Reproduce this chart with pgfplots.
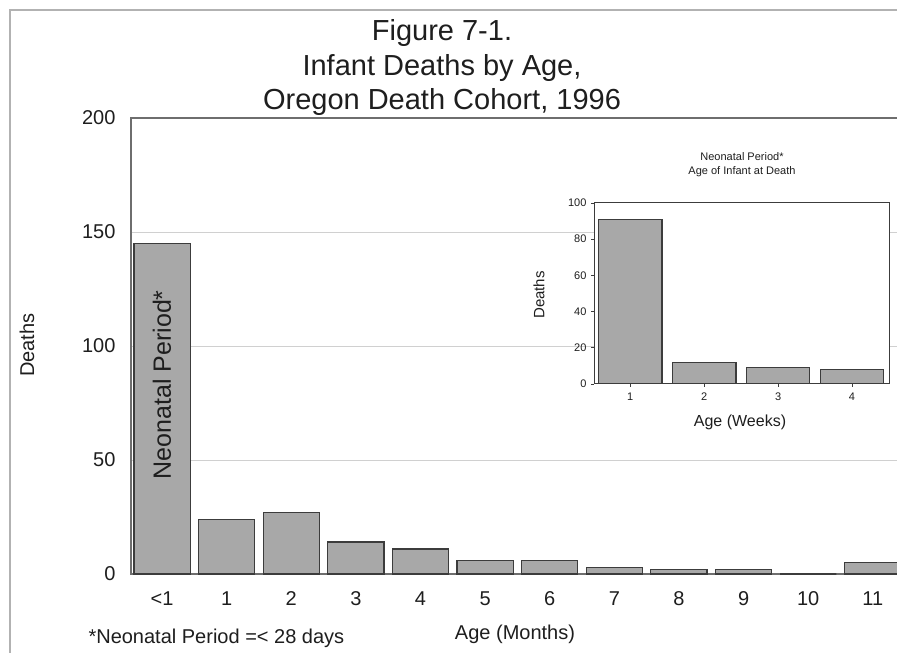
\documentclass[border=0pt]{standalone}
\usepackage{pgfplots}
\pgfplotsset{compat=1.18}
\usepackage{fontspec}
\setmainfont{Liberation Sans}
\definecolor{barfill}{RGB}{168,168,168}
\definecolor{baredge}{RGB}{60,60,60}
\definecolor{txt}{RGB}{30,30,30}
\definecolor{gridc}{RGB}{208,208,208}
\definecolor{axisc}{RGB}{110,110,110}
\begin{document}
\begin{tikzpicture}[x=1pt,y=1pt]
\path[use as bounding box, clip] (0,0) rectangle (897,653);
\fill[white] (0,0) rectangle (897,653);
\draw[gray!60, line width=1.5pt] (10,0) -- (10,643) -- (897,643);
% main axis
\begin{axis}[
  at={(131pt,79pt)}, anchor=south west, scale only axis,
  width=789pt, height=456pt,
  xmin=-0.48, xmax=11.73, ymin=0, ymax=200,
  ybar, bar width=0.87,
  axis line style={axisc, line width=1.2pt},
  xtick={0,...,11}, xticklabels={<1,1,2,3,4,5,6,7,8,9,10,11},
  ytick={0,50,100,150,200},
  major tick length=0pt,
  ymajorgrids, grid style={gridc, line width=0.8pt},
  tick label style={font=\fontsize{20}{24}\selectfont, text=txt},
  /pgf/number format/assume math mode=true,
  xticklabel style={yshift=-14pt},
  yticklabel style={xshift=-12pt},
  clip=false,
]
\addplot[fill=barfill, draw=baredge, line width=1.2pt] coordinates {
  (0,145) (1,24) (2,27) (3,14) (4,11) (5,6) (6,6) (7,3) (8,2) (9,2) (10,0) (11,5)};
\node[rotate=90, font=\fontsize{25}{30}\selectfont, text=txt] at (axis cs:0,83) {Neonatal Period*};
\end{axis}
% inset axis
\begin{axis}[
  at={(594pt,269pt)}, anchor=south west, scale only axis,
  width=295pt, height=181pt,
  xmin=0.51, xmax=4.5, ymin=0, ymax=100,
  ybar, bar width=0.86,
  axis background/.style={fill=white},
  axis line style={baredge, line width=1pt},
  xtick={1,2,3,4}, ytick={0,20,40,60,80,100},
  tick align=outside, major tick length=3pt,
  tick style={baredge, line width=0.6pt},
  xtick pos=bottom, ytick pos=left,
  tick label style={font=\fontsize{11}{13}\selectfont, text=txt},
  /pgf/number format/assume math mode=true,
  xticklabel style={yshift=-2pt},
  yticklabel style={xshift=-1pt},
]
\addplot[fill=barfill, draw=baredge, line width=1.2pt] coordinates {
  (1,91) (2,12) (3,9) (4,8)};
\end{axis}
% texts
\node[anchor=base, font=\fontsize{29}{34}\selectfont, text=txt] at (442,612) {Figure 7-1.};
\node[anchor=base, font=\fontsize{29}{34}\selectfont, text=txt] at (442,577) {Infant Deaths by Age,};
\node[anchor=base, font=\fontsize{29}{34}\selectfont, text=txt] at (442,543) {Oregon Death Cohort, 1996};
\node[rotate=90, font=\fontsize{20}{24}\selectfont, text=txt] at (27,308) {Deaths};
\node[font=\fontsize{20}{24}\selectfont, text=txt] at (515,19) {Age (Months)};
\node[anchor=west, font=\fontsize{20}{24}\selectfont, text=txt] at (85,15) {*Neonatal Period =< 28 days};
\node[font=\fontsize{11}{13}\selectfont, text=txt] at (742,496) {Neonatal Period*};
\node[font=\fontsize{11}{13}\selectfont, text=txt] at (742,481) {Age of Infant at Death};
\node[rotate=90, font=\fontsize{15}{18}\selectfont, text=txt] at (539,358) {Deaths};
\node[font=\fontsize{16}{19}\selectfont, text=txt] at (740,231) {Age (Weeks)};
\end{tikzpicture}
\end{document}
